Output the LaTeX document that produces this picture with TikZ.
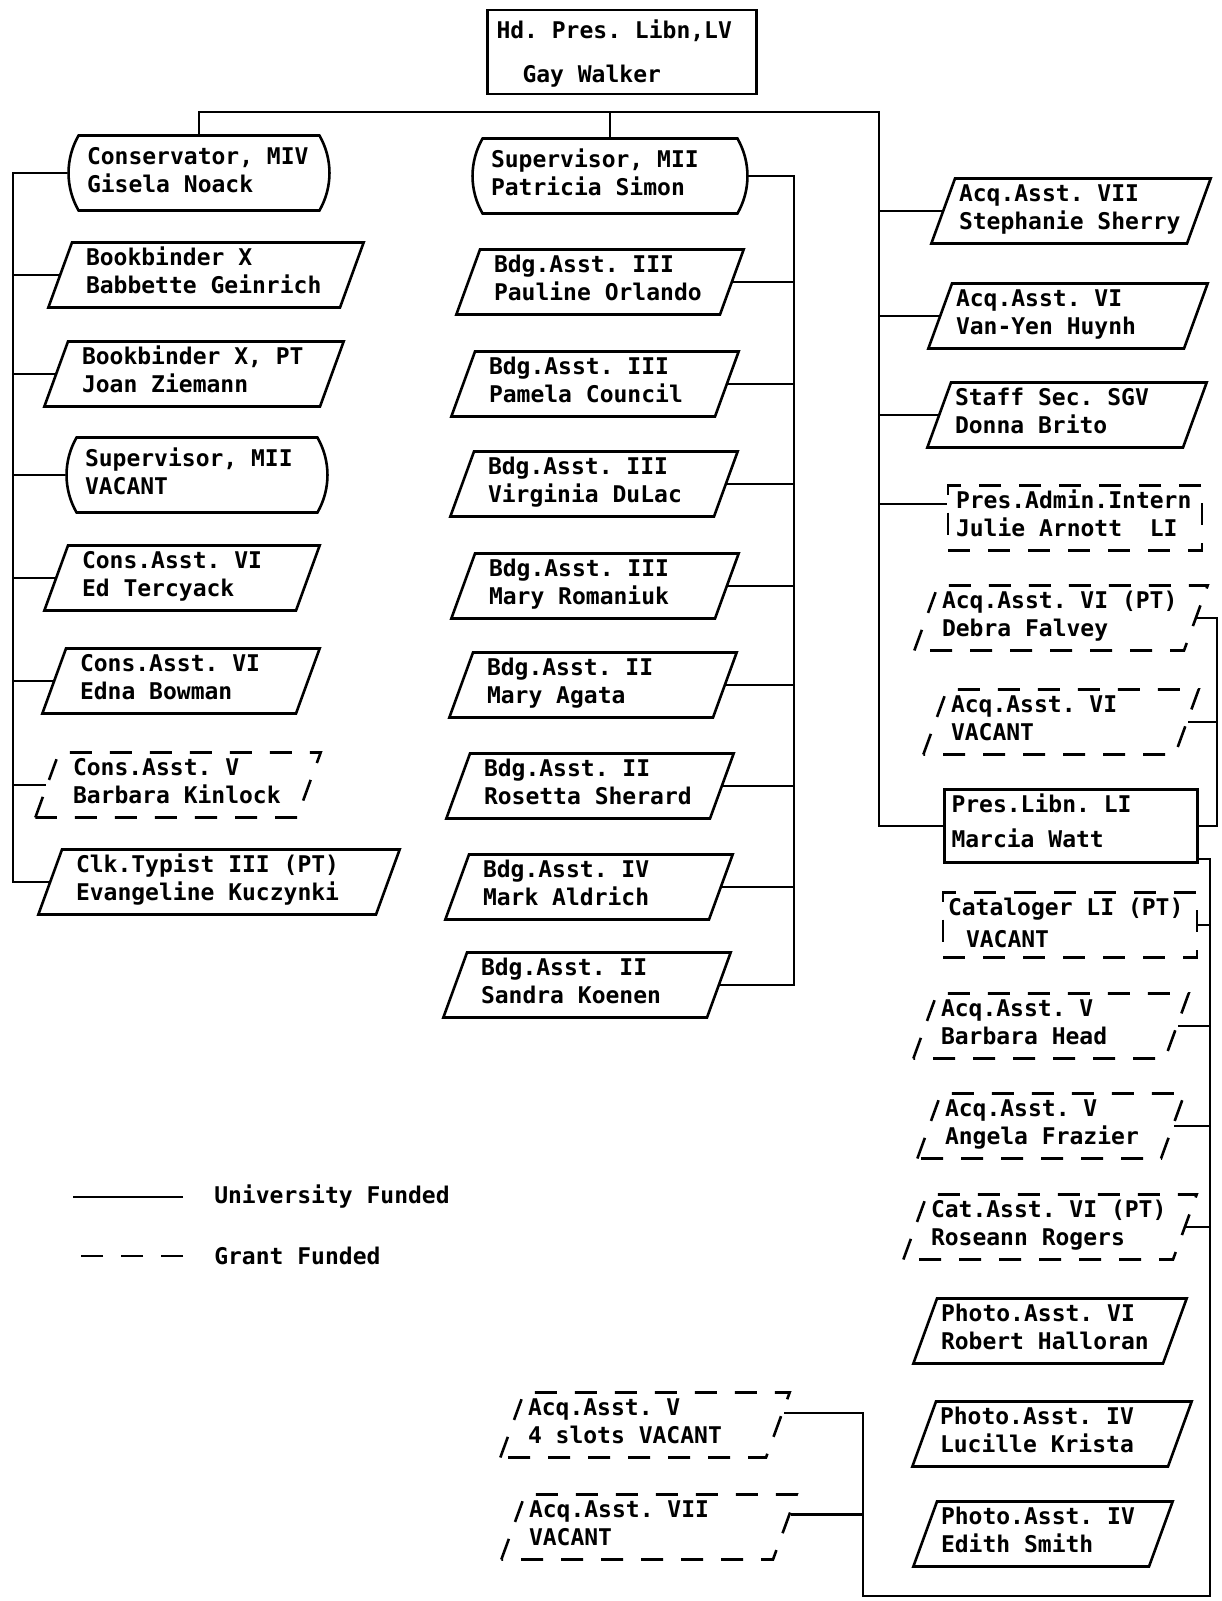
\documentclass[tikz,border=0pt]{standalone}
\usepackage{fontspec}
\setmainfont{DejaVu Sans Mono}
\usetikzlibrary{shapes.geometric,shapes.misc}
\begin{document}
\frenchspacing
\begin{tikzpicture}[x=0.5pt,y=-0.5pt,line width=1.3pt,font=\fontsize{11.5}{14}\selectfont\bfseries,
    box/.style={draw,align=left,text height=8.5pt,text depth=18pt,inner ysep=3pt,inner xsep=7pt,
      execute at begin node={\spaceskip=0.602em\xspaceskip=0.602em}},
    post/.style={box,trapezium,trapezium left angle=70,trapezium right angle=110},
    head/.style={box,rounded rectangle,rounded rectangle arc length=60,text depth=17pt,inner ysep=6pt},
    grant/.style={dash pattern=on 11pt off 9pt}]
  \useasboundingbox (0,0) rectangle (1221,1601);
  \node[box,text width=125.5pt,inner xsep=4.5pt,text depth=22pt,inner ysep=5.75pt] (hd) at (622,52)
    {Hd. Pres. Libn,LV\\[8pt]\hspace*{13pt}Gay Walker};
  \node[head,text width=112pt] (cons) at (199,173) {Conservator, MIV\\Gisela Noack};
  \node[head,text width=119pt] (sup) at (610,176) {Supervisor, MII\\Patricia Simon};
  \node[head,text width=112pt] (supv) at (197,475) {Supervisor, MII\\VACANT};
  \foreach \n/\x/\y/\s/\w/\a/\b in {bb1/206/275/7/120/{Bookbinder X}/{Babbette Geinrich},
      bb2/194/374/7/112/{Bookbinder X, PT}/{Joan Ziemann},
      et/182/578/7/100/{Cons.Asst. VI}/{Ed Tercyack},
      eb/181/681/7/101/{Cons.Asst. VI}/{Edna Bowman},
      ek/219/882/7/143/{Clk.Typist III (PT)}/{Evangeline Kuczynki},
      po/600/282/7/106/{Bdg.Asst. III}/{Pauline Orlando},
      pc/595/384/7/106/{Bdg.Asst. III}/{Pamela Council},
      vd/594/484/7/106/{Bdg.Asst. III}/{Virginia DuLac},
      mr/595/586/7/106/{Bdg.Asst. III}/{Mary Romaniuk},
      ma/593/685/7/106/{Bdg.Asst. II}/{Mary Agata},
      rs/590/786/7/106/{Bdg.Asst. II}/{Rosetta Sherard},
      mk/589/887/7/106/{Bdg.Asst. IV}/{Mark Aldrich},
      sk/587/985/7/106/{Bdg.Asst. II}/{Sandra Koenen},
      a7/1071/211/2/112/{Acq.Asst. VII}/{Stephanie Sherry},
      vh/1068/316/2/112/{Acq.Asst. VI}/{Van-Yen Huynh},
      db/1067/415/2/112/{Staff Sec. SGV}/{Donna Brito},
      rh/1050/1331/2/109/{Photo.Asst. VI}/{Robert Halloran},
      lk/1052/1434/2/112/{Photo.Asst. IV}/{Lucille Krista},
      es/1043/1534/2/102/{Photo.Asst. IV}/{Edith Smith}}
    \node[post,inner xsep=\s pt,text width=\w pt] (\n) at (\x,\y) {\a\\\b};
  \foreach \n/\x/\y/\s/\w/\a/\b in {bk/178/785/7/105/{Cons.Asst. V}/{Barbara Kinlock},
      df/1061/618/2/119/{Acq.Asst. VI (PT)}/{Debra Falvey},
      av/1061/722/2/110/{Acq.Asst. VI}/{VACANT},
      bh/1051/1026/2/110/{Acq.Asst. V}/{Barbara Head},
      af/1051/1126/2/106/{Acq.Asst. V}/{Angela Frazier},
      rr/1050/1227/2/119/{Cat.Asst. VI (PT)}/{Roseann Rogers},
      s4/645/1425/2/117/{Acq.Asst. V}/{4 slots VACANT},
      a7v/649/1527/2/120/{Acq.Asst. VII}/{VACANT}}
    \node[post,grant,inner xsep=\s pt,text width=\w pt] (\n) at (\x,\y) {\a\\\b};
  \node[box,grant,text width=119pt,inner xsep=4pt] (ja) at (1075,518) {Pres.Admin.Intern\\Julie Arnott\ \ LI};
  \node[box,text width=119.5pt,inner xsep=3.5pt,text depth=22pt] (ml) at (1071,826) {Pres.Libn. LI\\[3.5pt]Marcia Watt};
  \node[box,grant,text width=122pt,inner xsep=2.5pt] (cv) at (1070,925) {Cataloger LI (PT)\\[2pt]\hspace*{9pt}VACANT};
  \coordinate (bus) at (879,112);
  \coordinate (lt) at (13,0);
  \coordinate (mt) at (794,0);
  \coordinate (rt) at (1217,0);
  \coordinate (rb) at (1210,1596);
  \coordinate (lb) at (863,1596);
  \draw (cons.north) |- (bus) |- (ml.west);
  \draw (sup.north) -- (sup.north |- bus);
  \draw (cons.west) -| (lt |- ek.west) -- (ek.west);
  \foreach \n in {bb1,bb2,supv,et,eb,bk} \draw (\n.west) -- (\n.west -| lt);
  \draw (sup.east) -| (mt |- sk.east) -- (sk.east);
  \foreach \n in {po,pc,vd,mr,ma,rs,mk} \draw (\n.east) -- (\n.east -| mt);
  \foreach \n in {a7,vh,db} \draw (\n.west) -- (\n.west -| bus);
  \draw ([yshift=7pt]ja.west) -- ([yshift=7pt]ja.west -| bus);
  \draw (df.east) -| (rt |- ml.east) -- (ml.east);
  \draw (av.east) -- (av.east -| rt);
  \draw ([yshift=2.5pt]ml.south east) -| (rb) -- (lb) |- (s4.5);
  \draw (a7v.5) -- (a7v.5 -| lb);
  \foreach \n in {cv,bh,af,rr} \draw (\n.east) -- (\n.east -| rb);
  \node[anchor=west,inner sep=0] (uf) at (213,1197) {University Funded};
  \node[anchor=west,inner sep=0] (gf) at (213,1256) {Grant Funded};
  \draw ([xshift=-15pt]uf.west) -- ++(-110,0);
  \draw[grant] ([xshift=-15pt]gf.west) -- ++(-110,0);
\end{tikzpicture}
\end{document}
